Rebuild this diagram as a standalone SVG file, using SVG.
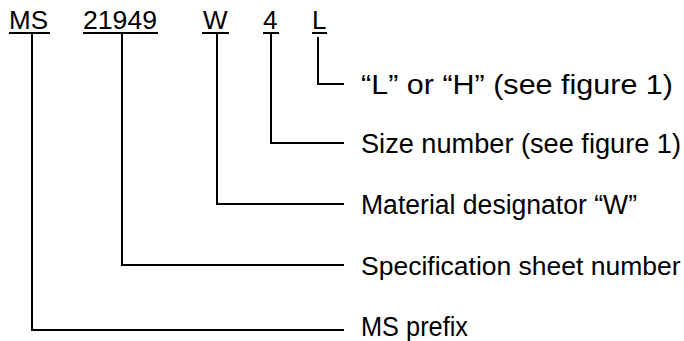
<svg xmlns="http://www.w3.org/2000/svg" width="684" height="341" viewBox="0 0 684 341">
<style>
text{font-family:"Liberation Sans",Arial,sans-serif;font-size:26px;fill:#000}
.lb{font-size:27px}
.ln{fill:none;stroke:#000;stroke-width:2}
.ul{stroke:#000;stroke-width:2}
</style>
<rect width="684" height="341" fill="#fff"/>
<g id="code-MS"><text x="9" y="29">MS</text><line class="ul" x1="9" y1="33" x2="50" y2="33"/></g>
<g id="code-21949"><text x="83" y="29" textLength="74" lengthAdjust="spacingAndGlyphs">21949</text><line class="ul" x1="83" y1="33" x2="158" y2="33"/></g>
<g id="code-W"><text x="203" y="29">W</text><line class="ul" x1="202" y1="33" x2="229" y2="33"/></g>
<g id="code-4"><text x="263" y="29">4</text><line class="ul" x1="263" y1="33" x2="279" y2="33"/></g>
<g id="code-L"><text x="312" y="29">L</text><line class="ul" x1="312" y1="33" x2="327" y2="33"/></g>
<g id="connectors">
<path class="ln" d="M318 37V84H344"/>
<path class="ln" d="M271 33V143H344"/>
<path class="ln" d="M217 33V204H344"/>
<path class="ln" d="M122 33V265H344"/>
<path class="ln" d="M32 33V330H344"/>
</g>
<g id="label-LH"><text class="lb" x="361" y="94" textLength="312" lengthAdjust="spacingAndGlyphs">“L” or “H” (see figure 1)</text></g>
<g id="label-size"><text class="lb" x="361" y="153" textLength="320" lengthAdjust="spacingAndGlyphs">Size number (see figure 1)</text></g>
<g id="label-material"><text class="lb" x="361" y="214" textLength="276" lengthAdjust="spacingAndGlyphs">Material designator “W”</text></g>
<g id="label-spec"><text class="lb" x="361" y="275" style="font-size:26.5px">Specification sheet number</text></g>
<g id="label-ms"><text class="lb" x="361" y="336" textLength="107" lengthAdjust="spacingAndGlyphs">MS prefix</text></g>
</svg>
